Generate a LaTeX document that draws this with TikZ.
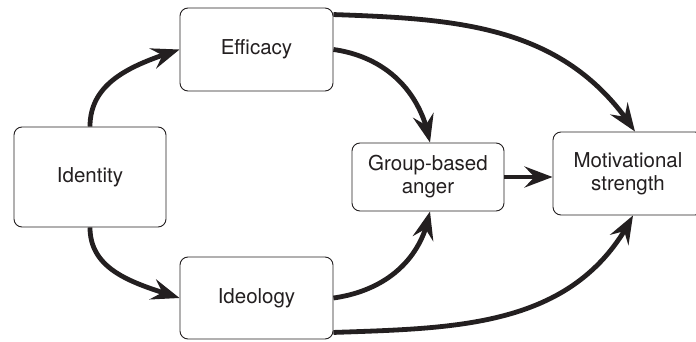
\documentclass[tikz,border=0pt]{standalone}
\usepackage{fontspec}
\setmainfont{TeX Gyre Heros}
\usetikzlibrary{arrows.meta,calc,bending}
\definecolor{ink}{HTML}{231F20}
\begin{document}
\begin{tikzpicture}[x=1pt,y=1pt,
  box/.style={draw=ink,line width=0.9pt,rounded corners=8pt,align=center,
    font=\fontsize{20.5}{23}\selectfont,text=ink,inner sep=0pt},
  arr/.style={draw=ink,line width=4.8pt,-{Stealth[length=28pt,width=21pt,inset=10pt,flex]}}]
\useasboundingbox (0,0) rectangle (696,341);
\node[box,minimum width=152pt,minimum height=100pt] (id) at (90,164) {Identity};
\node[box,minimum width=153pt,minimum height=83pt] (eff) at (256.5,291.5) {Efficacy};
\node[box,minimum width=153pt,minimum height=82pt] (ideo) at (256.5,43) {Ideology};
\node[box,minimum width=152pt,minimum height=68pt] (grp) at (428,164) {Group-based\\anger};
\node[box,minimum width=150pt,minimum height=83pt] (mot) at (628,167.5) {Motivational\\strength};
\coordinate (effT) at ($(eff.north east)+(0,-7)$);
\coordinate (ideoB) at ($(ideo.south east)+(0,7)$);
\coordinate (motN) at ($(mot.north)+(7,0)$);
\coordinate (motS) at ($(mot.south)+(5,0)$);
\coordinate (grpN) at ($(grp.north)+(2,0)$);
\coordinate (grpS) at ($(grp.south)+(2,0)$);
\draw[arr] (id.north) to[out=90,in=198] (eff.west);
\draw[arr] (id.south) to[out=-90,in=162] (ideo.west);
\draw[arr] (eff.east) to[out=-8,in=100] (grpN);
\draw[arr] (effT) to[out=-2,in=123] (motN);
\draw[arr] (ideo.east) to[out=8,in=260] (grpS);
\draw[arr] (ideoB) to[out=2,in=243] (motS);
\draw[arr] (grp.east) -- (grp.east -| mot.west);
\end{tikzpicture}
\end{document}
